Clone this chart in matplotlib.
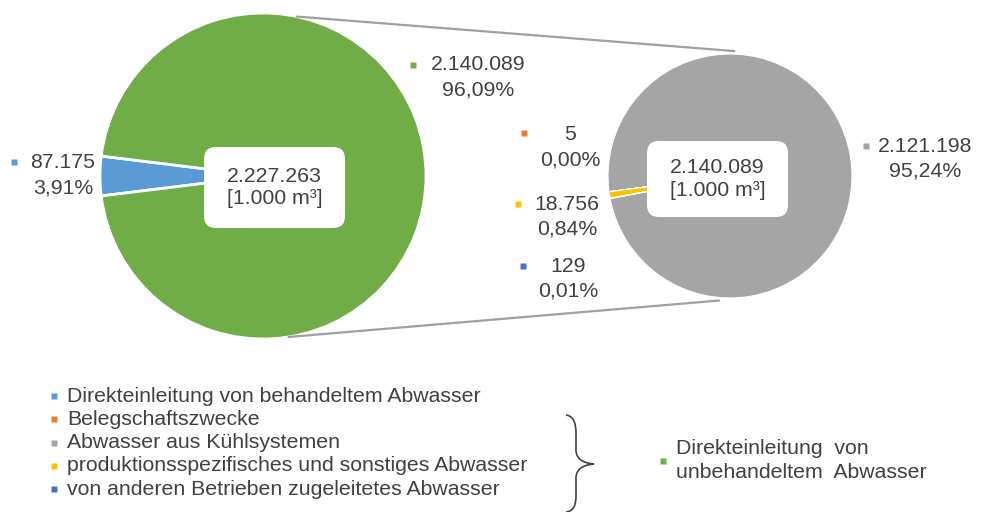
import numpy as np
import matplotlib.pyplot as plt
from matplotlib.patches import FancyBboxPatch, PathPatch
from matplotlib.path import Path

plt.rcParams['font.family'] = ['Liberation Sans', 'DejaVu Sans']

W, H = 981, 512
TXT = '#404040'
FS = 15.3

# Abwasser in 1.000 m³
main_labels = ['Direkteinleitung von behandeltem Abwasser',
               'Direkteinleitung von unbehandeltem Abwasser']
main_values = [87175, 2140089]
main_colors = ['#5b9bd5', '#70ad47']
main_total = 2227263

sub_labels = ['Abwasser aus Kühlsystemen', 'Belegschaftszwecke',
              'produktionsspezifisches und sonstiges Abwasser',
              'von anderen Betrieben zugeleitetes Abwasser']
sub_values = [2121198, 5, 18756, 129]
sub_colors = ['#a5a5a5', '#ed7d31', '#ffc000', '#4472c4']
sub_total = 2140089


def de_num(v):
    return f'{v:,}'.replace(',', '.')


def de_pct(v):
    return f'{v / main_total * 100:.2f}%'.replace('.', ',')


def py(y):
    # pixel row -> data y
    return H - y


fig = plt.figure(figsize=(W / 100, H / 100), dpi=100)
ax = fig.add_axes([0, 0, 1, 1])

# left pie
c1, r1 = (263, py(176)), 163
start1 = 180 - 360 * main_values[0] / sum(main_values) / 2
ax.pie(main_values, colors=main_colors, center=c1, radius=r1, startangle=start1,
       wedgeprops=dict(edgecolor='white', linewidth=2))

# right pie, small slices sit on the left side
c2, r2 = (730, py(176)), 122
s = sum(sub_values)
start2 = 189 - 360 * (sub_values[0] + sum(sub_values[1:]) / 2) / s
ax.pie(sub_values, colors=sub_colors, center=c2, radius=r2, startangle=start2,
       wedgeprops=dict(edgecolor='white', linewidth=0.8))

# connector lines
for a1, a2 in [(78, 88), (-81, -95)]:
    p1 = (c1[0] + r1 * np.cos(np.radians(a1)), c1[1] + r1 * np.sin(np.radians(a1)))
    p2 = (c2[0] + (r2 + 3) * np.cos(np.radians(a2)), c2[1] + (r2 + 3) * np.sin(np.radians(a2)))
    ax.plot([p1[0], p2[0]], [p1[1], p2[1]], color='#a0a0a0', lw=1.6,
            solid_capstyle='round', zorder=1)

# center boxes
for (x0, y0, w, h), val in [((204, 147, 141, 81), main_total), ((647, 141, 141, 76), sub_total)]:
    box = FancyBboxPatch((x0 + 12, py(y0 + h) + 12), w - 24, h - 24,
                         boxstyle='round,pad=12', fc='white', ec='none', zorder=3)
    ax.add_patch(box)
    ax.text(x0 + w / 2, py(y0 + h / 2), f'{de_num(val)}\n[1.000 m³]', ha='center',
            va='center', fontsize=FS, color=TXT, linespacing=1.25, zorder=4)

# data labels: (value, color, marker x, marker y, text x, first line y)
labels = [
    (main_values[0], main_colors[0], 14, 162, 63, 163),
    (main_values[1], main_colors[1], 413, 65, 478, 65),
    (sub_values[0], sub_colors[0], 866, 146, 925, 146),
    (sub_values[1], sub_colors[1], 524, 133, 570, 135),
    (sub_values[2], sub_colors[2], 518, 204, 567, 204),
    (sub_values[3], sub_colors[3], 523, 266, 568, 266),
]
for val, col, mx, my, tx, ty in labels:
    ax.plot(mx, py(my), 's', ms=4.2, color=col, mec='none')
    ax.text(tx, py(ty), de_num(val), ha='center', va='center', fontsize=FS, color=TXT)
    ax.text(tx, py(ty + 25), de_pct(val), ha='center', va='center', fontsize=FS, color=TXT)

# legend
legend_items = [(main_labels[0], main_colors[0]), (sub_labels[1], sub_colors[1]),
                (sub_labels[0], sub_colors[0]), (sub_labels[2], sub_colors[2]),
                (sub_labels[3], sub_colors[3])]
for i, (lab, col) in enumerate(legend_items):
    y = 396 + i * 23.3
    ax.plot(54, py(y), 's', ms=5, color=col, mec='none')
    ax.text(67, py(y), lab, ha='left', va='center', fontsize=FS, color=TXT)

# curly brace
verts = [(566, 415), (574, 416), (576, 424), (576, 434), (576, 450),
         (576, 458), (582, 463), (594, 464),
         (582, 465), (576, 470), (576, 478), (576, 495),
         (576, 505), (574, 511), (566, 512)]
codes = [Path.MOVETO] + [Path.CURVE4] * 3 + [Path.LINETO] + [Path.CURVE4] * 6 + \
        [Path.LINETO] + [Path.CURVE4] * 3
ax.add_patch(PathPatch(Path([(x, py(y)) for x, y in verts], codes),
                       fc='none', ec='#404040', lw=1.2))

ax.plot(663, py(461), 's', ms=5, color=main_colors[1], mec='none')
ax.text(676, py(449), 'Direkteinleitung  von', ha='left', va='center', fontsize=FS, color=TXT)
ax.text(676, py(472), 'unbehandeltem  Abwasser', ha='left', va='center', fontsize=FS, color=TXT)

ax.set_xlim(0, W)
ax.set_ylim(0, H)
ax.set_aspect('auto')
ax.axis('off')
fig.savefig('out.png', dpi=100, facecolor='white')
